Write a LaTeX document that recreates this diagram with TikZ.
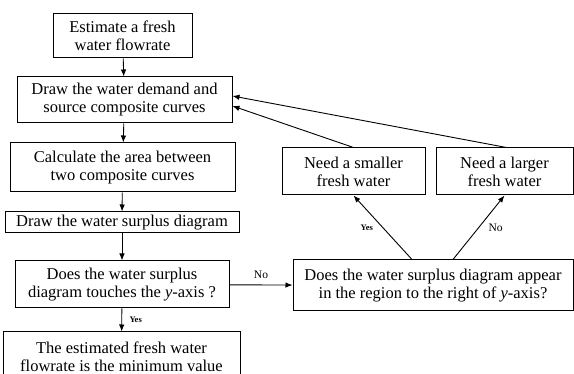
\documentclass[tikz,border=0pt]{standalone}
\usepackage{fontspec}
\setmainfont{Liberation Serif}
\usepackage{tikz}
\usetikzlibrary{positioning, arrows, arrows.meta, calc, shapes}

\begin{document}
\begin{tikzpicture}[x=1pt,y=-1pt,>={Latex[length=7pt,width=5.5pt]},
	stepbox/.style={draw,line width=1pt,align=center,inner sep=0pt,
		font=\fontsize{16.5}{18}\selectfont},
	flow/.style={->,line width=0.9pt},
	lab/.style={font=\fontsize{11.5}{12}\selectfont},
	smalllab/.style={font=\fontsize{8.5}{9}\selectfont\bfseries}]
	
	\useasboundingbox (0,0) rectangle (574,374);
	
	%Main column
	\node[stepbox,minimum width=139pt,minimum height=44pt] (est) at (122.5,36) {Estimate a fresh\\water flowrate};
	\node[stepbox,minimum width=215pt,minimum height=46pt] (comp) at (124.5,100) {Draw the water demand and\\source composite curves};
	\node[stepbox,minimum width=225pt,minimum height=49pt] (area) at (122.5,167.5) {Calculate the area between\\two composite curves};
	\node[stepbox,minimum width=234pt,minimum height=21pt] (surp) at (122,222.5) {Draw the water surplus diagram};
	\node[stepbox,minimum width=214pt,minimum height=47pt] (touch) at (122,284.5) {Does the water surplus\\diagram touches the \textit{y}-axis ?};
	\node[stepbox,minimum width=237pt,minimum height=50pt] (minval) at (121.5,357) {The estimated fresh water\\flowrate is the minimum value};
	
	%Right branch
	\node[stepbox,minimum width=280pt,minimum height=51pt] (right) at (433,285.5) {Does the water surplus diagram appear\\in the region to the right of \textit{y}-axis?};
	\node[stepbox,minimum width=143pt,minimum height=47pt] (smaller) at (353.5,171.5) {Need a smaller\\fresh water};
	\node[stepbox,minimum width=137pt,minimum height=47pt] (larger) at (504.5,171.5) {Need a larger\\fresh water};
	
	%Paths
	\draw[flow] (est) -- (comp);
	\draw[flow] (comp) -- (area);
	\draw[flow] (area) -- (surp);
	\draw[flow] (surp) -- (touch);
	\draw[flow] (touch) -- node[smalllab,right=4pt] {Yes} (minval);
	\draw[flow] (touch) -- node[lab,above=3pt] {No} (right);
	\draw[flow] ([xshift=-21pt]right.north) -- node[smalllab,left=6pt] {Yes} (smaller.south);
	\draw[flow] ([xshift=20pt]right.north) -- node[lab,right=6pt] {No} (larger.south);
	\draw[flow] (smaller.north) -- ([yshift=-6pt]comp.east);
	\draw[flow] ([xshift=2pt]larger.north) -- ([yshift=4pt]comp.east);
	
\end{tikzpicture}
\end{document}
